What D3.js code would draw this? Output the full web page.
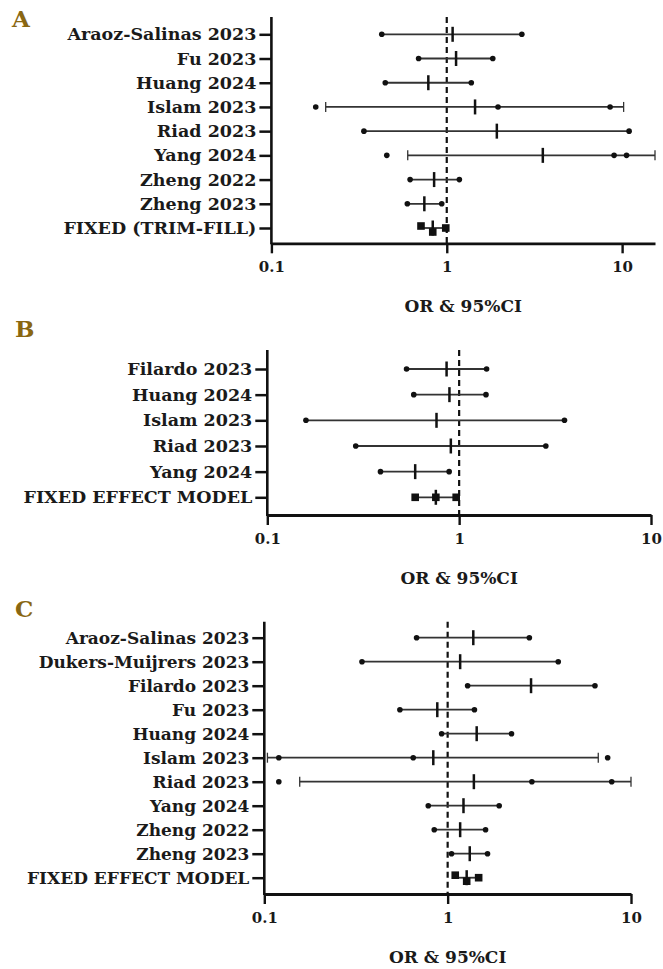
<!DOCTYPE html>
<html>
<head>
<meta charset="utf-8">
<script src="https://cdn.jsdelivr.net/npm/d3@7"></script>
<style>
  body { margin: 0; background: #fff; }
  text { font-family: "DejaVu Serif", "Liberation Serif", serif; font-weight: bold; }
</style>
</head>
<body>
<div id="chart"></div>
<script>
// ---- panel A (trim-fill) ----
const aStudies = ["Araoz-Salinas 2023", "Fu 2023", "Huang 2024", "Islam 2023", "Riad 2023",
                  "Yang 2024", "Zheng 2022", "Zheng 2023", "FIXED (TRIM-FILL)"];
const aOR   = [1.08, 1.13, 0.785, 1.45, 1.93, 3.53, 0.847, 0.745, 0.832];
const aLow  = [0.426, 0.691, 0.446, 0.204, 0.337, 0.599, 0.618, 0.596, 0.713];
const aHigh = [2.68, 1.83, 1.38, 10.2, 10.96, 16, 1.18, 0.936, 0.987];
const aCap  = [0, 0, 0, 1, 0, 1, 0, 0, 0];
const aExtra = [[], [], [], [0.179, 1.96, 8.54], [], [0.455, 9.0, 10.6], [], [], []];

// ---- panel B ----
const bStudies = ["Filardo 2023", "Huang 2024", "Islam 2023", "Riad 2023", "Yang 2024", "FIXED EFFECT MODEL"];
const bOR   = [0.86, 0.89, 0.762, 0.905, 0.59, 0.756];
const bLow  = [0.532, 0.58, 0.159, 0.289, 0.389, 0.59];
const bHigh = [1.39, 1.38, 3.54, 2.83, 0.887, 0.965];
const bCap  = [0, 0, 0, 0, 0, 0];
const bExtra = [[], [], [], [], [], []];

// ---- panel C ----
const cStudies = ["Araoz-Salinas 2023", "Dukers-Muijrers 2023", "Filardo 2023", "Fu 2023", "Huang 2024",
                  "Islam 2023", "Riad 2023", "Yang 2024", "Zheng 2022", "Zheng 2023", "FIXED EFFECT MODEL"];
const cOR   = [1.38, 1.17, 2.85, 0.878, 1.44, 0.835, 1.39, 1.22, 1.17, 1.32, 1.27];
const cLow  = [0.677, 0.341, 1.285, 0.549, 0.927, 0.104, 0.156, 0.784, 0.845, 1.05, 1.10];
const cHigh = [2.79, 4.01, 6.36, 1.40, 2.23, 6.63, 10.4, 1.91, 1.61, 1.65, 1.476];
const cCap  = [0, 0, 0, 0, 0, 1, 1, 0, 0, 0, 0];
const cExtra = [[], [], [], [], [], [0.120, 0.649, 7.46], [0.120, 2.88, 7.85], [], [], [], []];

const xTicks = [0.1, 1, 10];
const xTitle = "OR & 95%CI";

const svg = d3.select("#chart").append("svg")
    .attr("width", 663)
    .attr("height", 969);

function drawPanel(p) {
    const rows = p.studies.map((s, i) => ({
        label: s, or: p.or[i], lo: p.low[i], hi: p.high[i],
        cap: p.cap[i], extra: p.extra[i], pooled: i === p.studies.length - 1
    }));

    const x = d3.scaleLog().domain(p.xDomain).range(p.xRange).clamp(true);
    const y = d3.scalePoint().domain(p.studies).range(p.yRange);

    const g = svg.append("g");

    // panel letter
    g.append("text")
        .attr("x", p.letterPos[0]).attr("y", p.letterPos[1])
        .attr("font-size", "23px")
        .attr("fill", "#8a6712")
        .text(p.letter);

    // y axis (study labels)
    const yAx = g.append("g")
        .attr("transform", `translate(${p.xRange[0]},0)`)
        .call(d3.axisLeft(y).tickSize(12).tickPadding(3));
    yAx.select(".domain").remove();
    yAx.selectAll(".tick line").attr("stroke", "#111").attr("stroke-width", 2.5);
    yAx.selectAll(".tick text")
        .attr("font-size", p.labelSize)
        .attr("font-family", "DejaVu Serif")
        .attr("font-weight", "bold")
        .attr("fill", "#1a1a1a");

    g.append("line")
        .attr("x1", p.xRange[0]).attr("x2", p.xRange[0])
        .attr("y1", p.axisTop).attr("y2", p.axisY + 1)
        .attr("stroke", "#111").attr("stroke-width", 2.6);

    // x axis
    const xAx = g.append("g")
        .attr("transform", `translate(0,${p.axisY})`)
        .call(d3.axisBottom(x).tickValues(xTicks).tickFormat(d => d).tickSize(10).tickSizeOuter(0).tickPadding(8));
    xAx.select(".domain").attr("stroke", "#111").attr("stroke-width", 2.8);
    xAx.selectAll(".tick line").attr("stroke", "#111").attr("stroke-width", 2.4);
    xAx.selectAll(".tick text")
        .attr("font-size", "15px")
        .attr("font-family", "DejaVu Serif")
        .attr("font-weight", "bold")
        .attr("fill", "#1a1a1a");

    g.append("text")
        .attr("x", (p.xRange[0] + p.xRange[1]) / 2)
        .attr("y", p.axisY + 69)
        .attr("text-anchor", "middle")
        .attr("font-size", "17px")
        .attr("fill", "#1a1a1a")
        .text(xTitle);

    // reference line at OR = 1
    g.append("line")
        .attr("x1", x(1)).attr("x2", x(1))
        .attr("y1", p.axisTop).attr("y2", p.axisY)
        .attr("stroke", "#111").attr("stroke-width", 2.2)
        .attr("stroke-dasharray", "6,4");

    const row = g.selectAll("g.row").data(rows).join("g")
        .attr("class", "row")
        .attr("transform", d => `translate(0,${y(d.label)})`);

    // whiskers
    row.append("line")
        .attr("x1", d => x(d.lo)).attr("x2", d => x(d.hi))
        .attr("stroke", "#333").attr("stroke-width", 1.8);

    // end caps
    row.filter(d => d.cap).selectAll("line.cap")
        .data(d => [d.lo, d.hi]).join("line")
        .attr("class", "cap")
        .attr("x1", v => x(v)).attr("x2", v => x(v))
        .attr("y1", -5).attr("y2", 5)
        .attr("stroke", "#333").attr("stroke-width", 1.3);

    // end dots
    row.filter(d => !d.cap && !d.pooled).selectAll("circle.end")
        .data(d => [d.lo, d.hi]).join("circle")
        .attr("class", "end")
        .attr("cx", v => x(v)).attr("r", 2.8).attr("fill", "#111");

    // extra points
    row.selectAll("circle.extra")
        .data(d => d.extra).join("circle")
        .attr("class", "extra")
        .attr("cx", v => x(v)).attr("r", 2.8).attr("fill", "#111");

    // pooled estimate squares
    row.filter(d => d.pooled).selectAll("rect")
        .data(d => [[d.lo, p.sqOff[0]], [d.or, p.sqOff[1]], [d.hi, p.sqOff[2]]]).join("rect")
        .attr("x", v => x(v[0]) - 3.8).attr("y", v => v[1] - 3.8)
        .attr("width", 7.6).attr("height", 7.6)
        .attr("fill", "#111");

    // point estimate tick
    row.append("line")
        .attr("x1", d => x(d.or)).attr("x2", d => x(d.or))
        .attr("y1", -7.5).attr("y2", 7.5)
        .attr("stroke", "#111").attr("stroke-width", 2.5);
}

drawPanel({
    letter: "A", letterPos: [12, 27],
    studies: aStudies, or: aOR, low: aLow, high: aHigh, cap: aCap, extra: aExtra,
    xDomain: [0.1, 15.4], xRange: [271.4, 655],
    yRange: [34.3, 228], axisTop: 17, axisY: 243.3,
    labelSize: "17.5px", sqOff: [-2, 4, 0]
});

drawPanel({
    letter: "B", letterPos: [15, 337],
    studies: bStudies, or: bOR, low: bLow, high: bHigh, cap: bCap, extra: bExtra,
    xDomain: [0.1, 10], xRange: [267.3, 651],
    yRange: [369, 497.3], axisTop: 350, axisY: 515,
    labelSize: "17.5px", sqOff: [0, 0, 0]
});

drawPanel({
    letter: "C", letterPos: [15, 617],
    studies: cStudies, or: cOR, low: cLow, high: cHigh, cap: cCap, extra: cExtra,
    xDomain: [0.1, 10], xRange: [264.3, 631],
    yRange: [637.7, 877.7], axisTop: 621.7, axisY: 894,
    labelSize: "17px", sqOff: [-2.5, 3.5, 0]
});
</script>
</body>
</html>
